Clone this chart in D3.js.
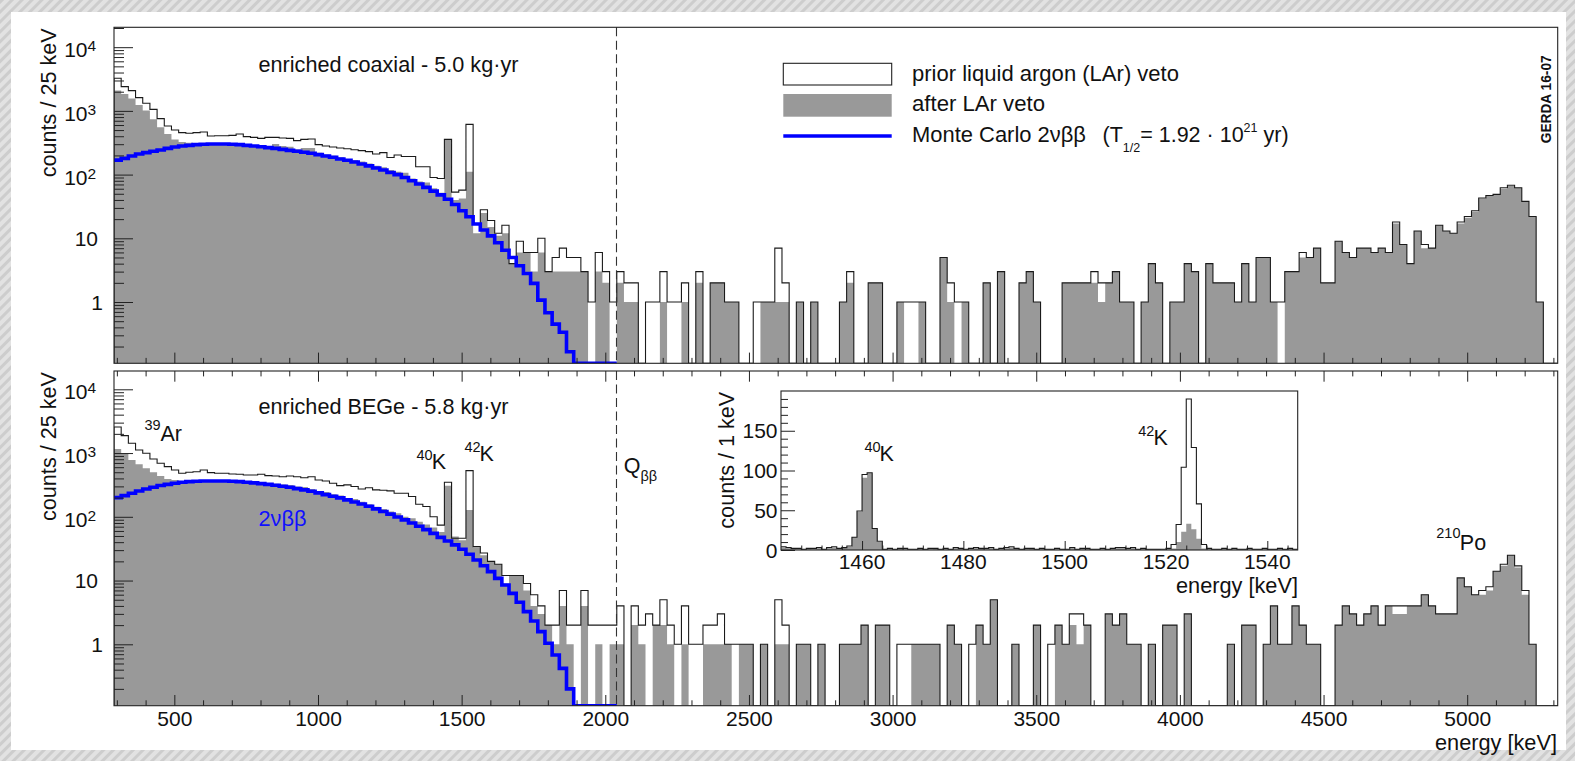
<!DOCTYPE html>
<html><head><meta charset="utf-8">
<script src="https://cdn.jsdelivr.net/npm/d3@7"></script>
<style>
html,body{margin:0;padding:0;background:#fff;overflow:hidden;}
svg{display:block;font-family:"Liberation Sans",Arial,Helvetica,sans-serif;}
</style></head><body>
<svg id="c" width="1575" height="761"></svg>
<script>
// ---------- data (25 keV bins starting at 290 keV) ----------
const binStart = 290, binWidth = 25;
const topPrior = [3245,2400,2080,1614,1315,1058,755,580,501,455,
445,455,466,403,408,408,413,434,394,384,
370,384,384,375,370,341,357,362,295,281,
271,262,255,246,238,229,211,221,185,203,
192,192,133,133,90,87,357,53,57,615,
17,28,19,12,16,4,9,6,6,10,
3,5,7,5,5,3,1,6,3,1,
3,2,2,0,1,1,3,1,1,2,
0,3,0,2,2,1,1,0,0,1,
1,1,7,2,0,1,0,1,0,0,
0,1,3,0,0,2,2,0,0,1,
1,1,1,0,0,5,2,1,1,0,
0,2,0,3,0,0,2,3,1,0,
0,0,2,2,2,2,3,2,2,3,
1,1,0,1,4,2,0,1,1,4,
3,0,4,2,2,2,1,4,1,5,
5,1,1,3,3,6,5,7,2,2,
9,6,5,7,7,6,7,6,18,8,
4,13,8,7,16,13,12,18,22,27,
43,47,49,62,68,62,38,22,1,0,
0];
const topAfter = [2080,1840,1570,1240,1010,740,555,434,357,325,
317,310,302,310,310,310,306,302,295,291,
288,281,302,281,274,249,262,262,221,206,
198,187,176,169,160,150,138,130,118,111,
107,87,78,75,61,52,350,40,42,111,
12,25,15,11,12,4,6,6,3,6,
3,3,3,3,3,3,0,3,2,0,
2,1,1,0,0,0,1,0,0,1,
0,2,0,2,2,1,1,0,0,0,
1,1,1,1,0,1,0,1,0,0,
0,1,2,0,0,2,2,0,0,1,
0,0,1,0,0,5,1,0,1,0,
0,2,0,3,0,0,2,3,1,0,
0,0,2,2,2,2,2,1,2,3,
1,1,0,1,4,2,0,1,1,4,
3,0,4,2,2,2,1,4,1,5,
5,1,0,3,3,5,5,7,2,2,
9,6,5,7,7,6,7,6,17,8,
4,13,7,7,16,13,12,17,21,26,
42,46,48,60,66,62,38,22,1,0,
0];
const topMC = [169,180,196,211,221,232,243,258,271,281,
288,295,299,302,302,302,299,295,288,281,
274,265,258,249,240,232,224,216,206,196,
187,176,168,158,147,137,127,118,108,100,
90,80,71,63,55,48,41,34,27,21.8,
16.8,13.5,10.9,8.5,6.5,5.0,3.7,2.8,1.96,1.07,
0.68,0.45,0.335,0.166,0,0,0,0,0,0];
const botPrior = [2566,1877,1422,1117,991,807,690,612,543,482,
499,509,543,494,482,482,470,465,452,452,
465,443,437,425,437,425,410,425,377,365,
336,308,317,298,273,286,264,261,255,234,
234,208,157,145,100,74,348,46,46,530,
34,27,20,18,12,12,12,9,6,4,
2,2,7,2,2,7,2,2,2,2,
4,0,4,2,3,2,5,2,1,4,
1,1,2,2,3,1,1,1,1,0,
1,0,5,2,0,1,1,0,1,0,
0,1,1,1,2,0,2,2,0,1,
1,1,1,1,1,0,2,1,0,1,
2,1,5,0,0,1,0,0,2,0,
1,2,1,3,3,2,0,0,3,2,
3,1,1,0,1,0,2,2,0,3,
0,0,0,0,0,1,0,2,2,0,
1,4,1,1,4,2,1,1,0,0,
2,4,3,2,3,4,2,4,4,4,
4,4,6,4,3,3,3,11,8,6,
7,8,14,18,25,17,7,1,0,0,
0];
const botAfter = [1159,991,779,666,577,499,437,392,377,356,
361,372,372,372,372,368,368,365,356,348,
348,335,331,320,316,298,294,273,254,245,
226,215,195,190,173,157,144,133,121,114,
100,95,84,76,68,58,308,49,43,128,
33,25,20,18,9,12,12,7,4,3,
2,1,4,1,0,4,0,1,0,1,
1,0,2,1,0,2,2,1,0,1,
0,0,1,1,1,1,0,1,1,0,
1,0,1,1,0,1,1,0,1,0,
0,1,1,1,2,0,2,2,0,0,
0,1,1,1,1,0,2,1,0,0,
2,1,5,0,0,1,0,0,2,0,
0,2,1,2,1,2,0,0,3,2,
3,1,1,0,1,0,2,2,0,3,
0,0,0,0,0,1,0,2,2,0,
1,4,1,1,4,2,1,1,0,0,
2,4,3,2,3,4,2,4,3,3,
4,4,6,4,3,3,3,11,8,6,
6,7,14,17,25,16,6,1,0,0,
0];
const botMC = [200,215,234,254,273,290,309,323,336,348,
356,361,365,365,365,365,361,356,348,340,
331,323,312,301,290,277,264,252,237,223,
210,198,184,171,159,146,133,121,110,99.5,
89.5,80,71,63,55,47.5,41.8,36.3,30.9,25.8,
21.0,17.1,13.8,10.8,8.5,6.3,4.56,3.25,2.32,1.58,
1.04,0.68,0.42,0.2,0,0,0,0,0,0];

// inset: 1 keV bins starting at 1444 keV
const insetStart = 1444;
const insetPrior = [4,3,2,2,1,2,2,3,1,3,4,2,
3,5,16,49,95,97,27,11,
1,2,1,2,2,1,1,2,1,2,2,1,
2,1,3,2,1,2,3,2,2,3,1,2,
3,4,2,1,2,2,1,2,1,1,2,1,
1,3,1,2,2,1,1,2,1,2,3,3,
2,3,1,2,1,1,1,1,2,
7,32,104,190,129,58,7,
2,1,1,2,1,2,1,1,2,1,1,2,1,1,2,1,2,1];
const insetAfter = [3,2,2,1,1,2,1,2,1,2,3,1,
3,4,16,48,91,96,27,10,
1,1,1,2,1,1,1,2,1,1,2,1,
1,1,2,2,1,1,2,2,1,2,1,1,
2,3,2,1,1,2,1,1,1,1,1,1,
1,2,1,1,2,1,1,1,1,1,2,2,
1,2,1,1,1,1,1,0,1,
2,10,23,33,26,14,2,
1,1,1,1,1,1,1,1,1,1,1,1,1,1,1,1,1,1];

// ticks / labels
const xMajor = [500,1000,1500,2000,2500,3000,3500,4000,4500,5000];
const xMinor = d3.range(300, 5301, 100).filter(v => v % 500 !== 0);
const yDecades = [0,1,2,3,4];
const yLabelBase = ["1","10","10","10","10"];
const yLabelExp = ["","","2","3","4"];
const insetYMajor = [0,50,100,150];
const insetXMajor = [1460,1480,1500,1520,1540];
const Qbb = 2039;

// ---------- drawing ----------
const W = 1575, H = 761;
const svg = d3.select("#c");
const defs = svg.append("defs");
const pat = defs.append("pattern").attr("id","hatch").attr("width",7).attr("height",7)
  .attr("patternUnits","userSpaceOnUse").attr("patternTransform","rotate(45)");
pat.append("rect").attr("width",7).attr("height",7).attr("fill","#e2e2e2");
pat.append("rect").attr("width",3).attr("height",7).attr("fill","#cdcdcd");
svg.append("rect").attr("width",W).attr("height",H).attr("fill","url(#hatch)");
svg.append("rect").attr("x",11).attr("y",12).attr("width",1555).attr("height",738).attr("fill","#fff");

const FONT = 21.5, TICKF = 21, SUPF = 14.5;
const x = d3.scaleLinear().domain([290, 5315]).range([114.0, 1557.7]);
const L = x.range()[0], R = x.range()[1];

const panels = [
  {id:"t", top:27.3, bottom:363.3, lmin:-0.962, lmax:4.312, prior:topPrior, after:topAfter, mc:topMC, labels:false},
  {id:"b", top:371, bottom:705.7, lmin:-0.963, lmax:4.287, prior:botPrior, after:botAfter, mc:botMC, labels:true}
];

const stepPts = vals => vals.map((v,i)=>[binStart+i*binWidth, v])
  .concat([[binStart+vals.length*binWidth, vals[vals.length-1]]]);

panels.forEach(p => {
  const ymin = Math.pow(10,p.lmin);
  const y = d3.scaleLog().domain([ymin, Math.pow(10,p.lmax)]).range([p.bottom, p.top]);
  const yc = v => y(Math.max(v, ymin));
  p.y = y;
  const g = svg.append("g");
  g.append("rect").attr("x",L).attr("y",p.top).attr("width",R-L).attr("height",p.bottom-p.top).attr("fill","#fff");
  defs.append("clipPath").attr("id","clip"+p.id).append("rect")
    .attr("x",L).attr("y",p.top).attr("width",R-L).attr("height",p.bottom-p.top);
  const inner = g.append("g").attr("clip-path","url(#clip"+p.id+")");

  // after LAr veto: gray filled
  const area = d3.area().x(d=>x(d[0])).y0(p.bottom).y1(d=>yc(d[1])).curve(d3.curveStepAfter);
  inner.append("path").datum(stepPts(p.after)).attr("d",area).attr("fill","#999999");

  // prior LAr veto: outline
  const line = d3.line().x(d=>x(d[0])).y(d=>yc(d[1])).curve(d3.curveStepAfter);
  const pp = stepPts(p.prior);
  const priorPts = [[binStart,0]].concat(pp).concat([[pp[pp.length-1][0],0]]);
  inner.append("path").datum(priorPts).attr("d",line).attr("fill","none")
    .attr("stroke","#1a1a1a").attr("stroke-width",1.1);

  // MC 2nbb
  inner.append("path").datum(stepPts(p.mc)).attr("d",line).attr("fill","none")
    .attr("stroke","#0000ff").attr("stroke-width",3.6);

  // Q_bb line
  g.append("line").attr("x1",x(Qbb)).attr("x2",x(Qbb)).attr("y1",p.top).attr("y2",p.bottom)
    .attr("stroke","#333").attr("stroke-width",1.1).attr("stroke-dasharray","9,4.5");

  // axes
  const noDomain = s => s.select(".domain").remove();
  const styleAx = s => s.attr("color","#222").attr("font-family","Liberation Sans, Arial, sans-serif");
  if (!p.labels) {
    g.append("g").attr("transform",`translate(0,${p.bottom})`)
      .call(d3.axisTop(x).tickValues(xMajor).tickSize(10.7).tickFormat("")).call(noDomain).call(styleAx);
    g.append("g").attr("transform",`translate(0,${p.bottom})`)
      .call(d3.axisTop(x).tickValues(xMinor).tickSize(5.4).tickFormat("")).call(noDomain).call(styleAx);
  } else {
    g.append("g").attr("transform",`translate(0,${p.top})`)
      .call(d3.axisBottom(x).tickValues(xMajor).tickSize(10.7).tickFormat("")).call(noDomain).call(styleAx);
    g.append("g").attr("transform",`translate(0,${p.top})`)
      .call(d3.axisBottom(x).tickValues(xMinor).tickSize(5.4).tickFormat("")).call(noDomain).call(styleAx);
    const ax = g.append("g").attr("transform",`translate(0,${p.bottom})`)
      .call(d3.axisBottom(x).tickValues(xMajor).tickFormat(d3.format("d")).tickSizeInner(-10.7).tickSizeOuter(0).tickPadding(5.6))
      .call(noDomain).call(styleAx);
    ax.attr("font-size",TICKF);
    ax.selectAll("text").attr("fill","#111");
    g.append("g").attr("transform",`translate(0,${p.bottom})`)
      .call(d3.axisBottom(x).tickValues(xMinor).tickSizeInner(-5.4).tickFormat("")).call(noDomain).call(styleAx);
  }
  const yMajorVals = yDecades.map(d=>Math.pow(10,d));
  const yMinorVals = [];
  for (let e=-1;e<=4;e++) for (let m=2;m<=9;m++){const v=m*Math.pow(10,e); if(v>ymin && v<y.domain()[1]) yMinorVals.push(v);}
  g.append("g").attr("transform",`translate(${L},0)`)
    .call(d3.axisRight(y).tickValues(yMajorVals).tickSize(19).tickFormat("")).call(noDomain).call(styleAx);
  g.append("g").attr("transform",`translate(${L},0)`)
    .call(d3.axisRight(y).tickValues(yMinorVals).tickSize(10).tickFormat("")).call(noDomain).call(styleAx);

  // y labels
  yDecades.forEach((d,i) => {
    const ty = y(Math.pow(10,d));
    if (yLabelExp[i] === "") {
      g.append("text").attr("x", d===0 ? 103 : 98).attr("y", ty+7.8).attr("text-anchor","end")
        .attr("font-size",TICKF).attr("fill","#111").text(yLabelBase[i]);
    } else {
      g.append("text").attr("x",87.5).attr("y",ty+10).attr("text-anchor","end")
        .attr("font-size",TICKF).attr("fill","#111").text(yLabelBase[i]);
      g.append("text").attr("x",87.5).attr("y",ty+4).attr("font-size",SUPF+1).attr("fill","#111").text(yLabelExp[i]);
    }
  });
  // y title
  g.append("text").attr("transform",`translate(55.5,${p.top+1}) rotate(-90)`).attr("text-anchor","end")
    .attr("font-size",FONT).attr("fill","#111").attr("textLength",149).attr("lengthAdjust","spacingAndGlyphs")
    .text("counts / 25 keV");

  // frame
  g.append("rect").attr("x",L).attr("y",p.top).attr("width",R-L).attr("height",p.bottom-p.top)
    .attr("fill","none").attr("stroke","#222").attr("stroke-width",1.1);
});

// ---------- texts ----------
function txt(xp, yp, s, size, color, anchor, len){
  const t = svg.append("text").attr("x",xp).attr("y",yp).attr("font-size",size||FONT)
    .attr("fill",color||"#111").attr("text-anchor",anchor||"start").text(s);
  if (len) t.attr("textLength",len).attr("lengthAdjust","spacingAndGlyphs");
  return t;
}
// x title
txt(1557, 750, "energy [keV]", FONT, "#111", "end", 122);

txt(258.5, 72.3, "enriched coaxial - 5.0 kg\u00B7yr", FONT, "#111", "start", 260);
txt(258.5, 414.3, "enriched BEGe - 5.8 kg\u00B7yr", FONT, "#111", "start", 250);
txt(258.5, 526, "2\u03BD\u03B2\u03B2", FONT+0.5, "#1010ff", "start", 48);
txt(144.5, 430, "39", SUPF); txt(160.5, 441, "Ar");
txt(416.5, 460, "40", SUPF); txt(431.8, 469, "K");
txt(464.5, 452.3, "42", SUPF); txt(479.5, 460.7, "K");
txt(623.8, 472.5, "Q"); txt(640.5, 481, "\u03B2\u03B2", SUPF);
txt(1436.3, 538.3, "210", SUPF); txt(1459.8, 550, "Po");

// GERDA tag
svg.append("text").attr("transform","translate(1550.5,143.3) rotate(-90)").attr("font-size",14.5)
  .attr("font-weight","bold").attr("fill","#111").attr("textLength",88).attr("lengthAdjust","spacingAndGlyphs")
  .text("GERDA 16-07");

// legend
svg.append("rect").attr("x",783.3).attr("y",63.3).attr("width",108.4).attr("height",21.7)
  .attr("fill","#fff").attr("stroke","#222").attr("stroke-width",1.1);
svg.append("rect").attr("x",783.3).attr("y",94).attr("width",108.4).attr("height",22.7).attr("fill","#999999");
svg.append("line").attr("x1",783.3).attr("x2",891.7).attr("y1",136).attr("y2",136)
  .attr("stroke","#0000ff").attr("stroke-width",3.6);
txt(912, 80.7, "prior liquid argon (LAr) veto", FONT, "#111", "start", 267);
txt(912, 110.7, "after LAr veto", FONT, "#111", "start", 133);
txt(912, 142, "Monte Carlo 2\u03BD\u03B2\u03B2", FONT, "#111", "start", 174);
const tt = svg.append("text").attr("x",1102.5).attr("y",142).attr("font-size",FONT).attr("fill","#111");
tt.append("tspan").text("(T");
tt.append("tspan").attr("font-size",12.5).attr("dy",10).text("1/2");
tt.append("tspan").attr("dy",-10).text("= 1.92 \u00B7 10");
tt.append("tspan").attr("font-size",12.5).attr("dy",-10).text("21");
tt.append("tspan").attr("dy",10).text(" yr)");

// ---------- inset ----------
const xi = d3.scaleLinear().domain([1444,1546]).range([781,1297.7]);
const yi = d3.scaleLinear().domain([0,200]).range([550,391]);
const ig = svg.append("g");
ig.append("rect").attr("x",781).attr("y",391).attr("width",516.7).attr("height",159).attr("fill","#fff");
defs.append("clipPath").attr("id","clipI").append("rect").attr("x",781).attr("y",391).attr("width",516.7).attr("height",159);
const iin = ig.append("g").attr("clip-path","url(#clipI)");
const iPts = vals => vals.map((v,i)=>[insetStart+i, v]).concat([[insetStart+vals.length, vals[vals.length-1]]]);
iin.append("path").datum(iPts(insetAfter))
  .attr("d", d3.area().x(d=>xi(d[0])).y0(550).y1(d=>yi(d[1])).curve(d3.curveStepAfter)).attr("fill","#999999");
iin.append("path").datum(iPts(insetPrior))
  .attr("d", d3.line().x(d=>xi(d[0])).y(d=>yi(d[1])).curve(d3.curveStepAfter))
  .attr("fill","none").attr("stroke","#1a1a1a").attr("stroke-width",1.1);
const nd = s => s.select(".domain").remove();
const st = s => s.attr("color","#222");
ig.append("g").attr("transform","translate(781,0)")
  .call(d3.axisRight(yi).tickValues(insetYMajor).tickSize(14).tickFormat("")).call(nd).call(st);
ig.append("g").attr("transform","translate(781,0)")
  .call(d3.axisRight(yi).tickValues(d3.range(10,200,10).filter(v=>v%50!==0)).tickSize(7).tickFormat("")).call(nd).call(st);
ig.append("g").attr("transform","translate(0,550)")
  .call(d3.axisTop(xi).tickValues(insetXMajor).tickSize(9).tickFormat("")).call(nd).call(st);
ig.append("g").attr("transform","translate(0,550)")
  .call(d3.axisTop(xi).tickValues(d3.range(1448,1546,4).filter(v=>!insetXMajor.includes(v))).tickSize(4.5).tickFormat("")).call(nd).call(st);
insetYMajor.forEach(v => {
  ig.append("text").attr("x",777.5).attr("y",yi(v)+7.6).attr("text-anchor","end").attr("font-size",TICKF)
    .attr("fill","#111").text(v);
});
insetXMajor.forEach(v => {
  ig.append("text").attr("x",xi(v)).attr("y",568.5).attr("text-anchor","middle").attr("font-size",TICKF)
    .attr("fill","#111").text(v);
});
ig.append("rect").attr("x",781).attr("y",391).attr("width",516.7).attr("height",159)
  .attr("fill","none").attr("stroke","#222").attr("stroke-width",1.1);
ig.append("text").attr("transform","translate(733.5,391.7) rotate(-90)").attr("text-anchor","end")
  .attr("font-size",FONT).attr("fill","#111").attr("textLength",137).attr("lengthAdjust","spacingAndGlyphs")
  .text("counts / 1 keV");
txt(1298, 593, "energy [keV]", FONT, "#111", "end", 122);
txt(864.5, 451.7, "40", SUPF); txt(879.5, 460.7, "K");
txt(1138.2, 436, "42", SUPF); txt(1153.5, 445, "K");
</script>
</body></html>
